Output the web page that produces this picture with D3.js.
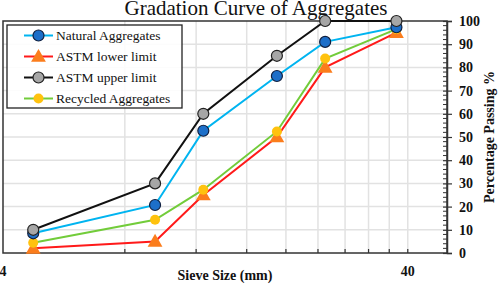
<!DOCTYPE html>
<html><head><meta charset="utf-8">
<script src="https://cdn.jsdelivr.net/npm/d3@7"></script>
<style>body{margin:0;background:#fff}svg{display:block}
svg text{font-family:"Liberation Serif","Times New Roman",serif}</style>
</head><body><svg id="c" width="498" height="284"></svg>
<script>
const sieveSizes = [4.75, 9.5, 12.5, 19, 25, 37.5];
const natural = [8.5, 20.7, 52.7, 76.3, 91, 97.3];
const astmLower = [2, 5, 25, 50, 80, 95];
const astmUpper = [10, 30, 60, 85, 100, 100];
const recycled = [4.4, 14.3, 27.3, 52.4, 83.8, 96.5];
const xGridVals = [4, 8, 12, 16, 20, 24, 28, 32, 36, 40];
const xTickLabels = [4, 40];
const yTicks = [0, 10, 20, 30, 40, 50, 60, 70, 80, 90, 100];

const FONT = '"Liberation Serif","Times New Roman",serif';
const svg = d3.select("#c");
const L = 3, R = 447, T = 21, B = 253;
const x = d3.scaleLog().domain([4, 50]).range([L, R]);
const y = d3.scaleLinear().domain([0, 100]).range([B, T]);

// grid
svg.append("g").selectAll("line").data(xGridVals.slice(1)).join("line")
  .attr("x1", d => x(d)).attr("x2", d => x(d)).attr("y1", T).attr("y2", B)
  .attr("stroke", "#e2e2e2").attr("stroke-width", 1.5);
svg.append("g").selectAll("line").data(yTicks.slice(1, -1)).join("line")
  .attr("x1", L).attr("x2", R).attr("y1", d => y(d)).attr("y2", d => y(d))
  .attr("stroke", "#e2e2e2").attr("stroke-width", 1.5);

// frame
svg.append("rect").attr("x", L).attr("y", T).attr("width", R - L).attr("height", B - T)
  .attr("fill", "none").attr("stroke", "#333").attr("stroke-width", 1.5);

// bottom ticks (inward)
svg.append("g").selectAll("line").data(xGridVals.slice(1)).join("line")
  .attr("x1", d => x(d)).attr("x2", d => x(d)).attr("y1", B).attr("y2", B - 4)
  .attr("stroke", "#333").attr("stroke-width", 1.2);

// right axis
const yAxis = d3.axisRight(y).tickValues(yTicks).tickSize(5).tickPadding(7);
const gy = svg.append("g").attr("transform", `translate(${R},0)`).call(yAxis);
gy.attr("font-family", null);
gy.select(".domain").attr("stroke", "#333").attr("stroke-width", 1.5);
gy.selectAll(".tick line").attr("x1", -4).attr("stroke", "#333").attr("stroke-width", 1.2);
gy.selectAll(".tick text").style("font-family", FONT).attr("font-weight", "bold")
  .attr("font-size", 14).attr("fill", "#111");
const minor = d3.range(0, 101, 2).filter(v => v % 10 !== 0);
svg.append("g").selectAll("line").data(minor).join("line")
  .attr("x1", R - 4).attr("x2", R).attr("y1", d => y(d)).attr("y2", d => y(d))
  .attr("stroke", "#333").attr("stroke-width", 1);

// x tick labels
svg.append("g").selectAll("text").data(xTickLabels).join("text")
  .attr("x", d => x(d)).attr("y", 276).attr("text-anchor", "middle")
  .style("font-family", FONT).attr("font-weight", "bold").attr("font-size", 14)
  .attr("fill", "#111").text(d => d);

// axis titles
svg.append("text").attr("x", 225).attr("y", 280).attr("text-anchor", "middle")
  .style("font-family", FONT).attr("font-weight", "bold").attr("font-size", 14)
  .attr("fill", "#111").text("Sieve Size (mm)");
svg.append("text").attr("transform", "translate(494,137) rotate(-90)").attr("text-anchor", "middle")
  .style("font-family", FONT).attr("font-weight", "bold").attr("font-size", 14)
  .attr("fill", "#111").text("Percentage Passing %");

// title
svg.append("text").attr("x", 256).attr("y", 15).attr("text-anchor", "middle")
  .style("font-family", FONT).attr("font-size", 21).attr("fill", "#111")
  .text("Gradation Curve of Aggregates");

const series = [
  {name: "Natural Aggregates", vals: natural, line: "#00b4f0", marker: "circle", fill: "#1d6fc9", stroke: "#102040", r: 5.5},
  {name: "ASTM lower limit", vals: astmLower, line: "#ff1a1a", marker: "triangle", fill: "#fb7d1c", stroke: "none", r: 6},
  {name: "ASTM upper limit", vals: astmUpper, line: "#111", marker: "circle", fill: "#a6a6a6", stroke: "#222", r: 5.5},
  {name: "Recycled Aggregates", vals: recycled, line: "#72cc3a", marker: "circle", fill: "#ffc20e", stroke: "none", r: 5}
];
const line = d3.line().x(d => x(d[0])).y(d => y(d[1]));
const tri = d3.symbol().type(d3.symbolTriangle).size(95);

function drawMarker(g, s, cx, cy) {
  if (s.marker === "circle") {
    g.append("circle").attr("cx", cx).attr("cy", cy).attr("r", s.r)
      .attr("fill", s.fill).attr("stroke", s.stroke).attr("stroke-width", 1.2);
  } else {
    g.append("path").attr("d", tri).attr("transform", `translate(${cx},${cy + 1})`).attr("fill", s.fill);
  }
}

const order = [1, 3, 0, 2];
order.forEach(i => {
  const s = series[i];
  const pts = sieveSizes.map((v, k) => [v, s.vals[k]]);
  svg.append("path").attr("d", line(pts)).attr("fill", "none")
    .attr("stroke", s.line).attr("stroke-width", 2);
});
order.forEach(i => {
  const s = series[i];
  const g = svg.append("g");
  sieveSizes.forEach((v, k) => drawMarker(g, s, x(v), y(s.vals[k])));
});

// legend
const lg = svg.append("g");
lg.append("rect").attr("x", 7).attr("y", 25).attr("width", 175).attr("height", 83)
  .attr("fill", "#fff").attr("fill-opacity", 0.88).attr("stroke", "#222").attr("stroke-width", 1.3);
series.forEach((s, i) => {
  const cy = 35.5 + i * 21;
  lg.append("line").attr("x1", 24).attr("x2", 53).attr("y1", cy).attr("y2", cy)
    .attr("stroke", s.line).attr("stroke-width", 2);
  drawMarker(lg, s, 38.5, cy);
  lg.append("text").attr("x", 56).attr("y", cy + 4.5).style("font-family", FONT)
    .attr("font-size", 13.5).attr("fill", "#111").text(s.name);
});
</script></body></html>
